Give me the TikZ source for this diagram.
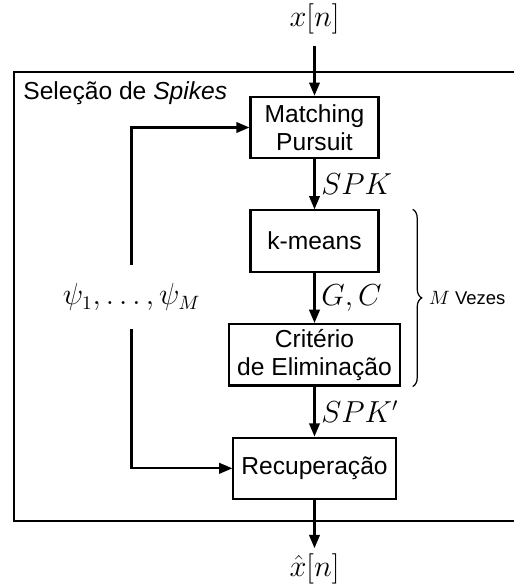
\documentclass[tikz,border=0pt]{standalone}
\usepackage{fontspec}
\setsansfont{Liberation Sans}
\usepackage{tikz}
\usetikzlibrary{arrows.meta,positioning,decorations.pathreplacing}

\begin{document}
\begin{tikzpicture}[
  font=\sffamily\fontsize{14}{16}\selectfont,
  blk/.style={draw, line width=1.2pt, align=center, inner xsep=4.5pt, inner ysep=2pt, minimum height=1.23cm, minimum width=2.56cm},
  lbl/.style={font=\fontsize{16}{19}\selectfont},
  arr/.style={-{Triangle[length=7.5pt,width=6pt]}, line width=1.2pt},
  wire/.style={line width=1.2pt}
]
\useasboundingbox (0,0) rectangle (10.28,-11.74);
% main chain
\node[blk] (mp) at (6.29,-2.55) {Matching\\Pursuit};
\node[blk, below=1cm of mp] (km) {k-means};
\node[blk, below=1cm of km] (crit) {Crit\'erio\\de Elimina\c{c}\~ao};
\node[blk, below=1cm of crit] (rec) {Recupera\c{c}\~ao};
\node[lbl, inner sep=0.22cm, above=1cm of mp] (xin) {$x[n]$};
\node[lbl, inner sep=0.1cm, below=0.96cm of rec] (xout) {$\hat{x}[n]$};
\node[lbl, inner ysep=0.36cm] (psi) at (2.63,-5.94) {$\psi_1,\ldots,\psi_M$};
% frame
\draw[wire] (10.6,-1.44) -- (0.28,-1.44) -- (0.28,-10.42) -- (10.6,-10.42);
\node[anchor=north west, inner sep=0.18cm] (ttl) at (0.28,-1.44) {Sele\c{c}\~ao de \textit{Spikes}};
\draw[arr] (xin) -- (mp);
\draw[arr] (mp) -- node[lbl, right] {$SPK$} (km);
\draw[arr] (km) -- node[lbl, right] {$G,C$} (crit);
\draw[arr] (crit) -- node[lbl, right] {$SPK'$} (rec);
\draw[arr] (rec) -- (xout);
\draw[arr] (psi.north) |- (mp.west);
\draw[arr] (psi.south) |- (rec.west);
% brace
\draw[line width=0.7pt, decorate, decoration={brace, amplitude=0.18cm}]
  ([xshift=0.24cm]crit.east |- km.north) -- ([xshift=0.24cm]crit.south east)
  node[midway, right=0.2cm, font=\sffamily\fontsize{10.5}{12}\selectfont] (rep) {$M$ Vezes};
\end{tikzpicture}
\end{document}
